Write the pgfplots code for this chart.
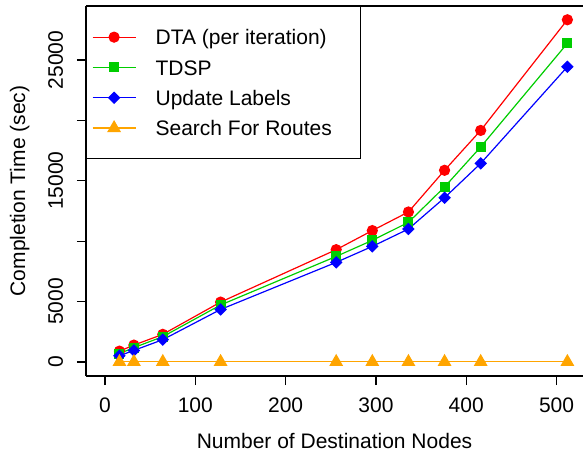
\documentclass[border=0pt]{standalone}
\usepackage{fontspec}
\setmainfont{Liberation Sans}
\usepackage{pgfplots}
\pgfplotsset{compat=1.18}
\definecolor{rgreen}{RGB}{0,205,0}
\definecolor{rorange}{RGB}{255,165,0}
\pgfdeclareplotmark{rdiamond}{%
  \pgfpathmoveto{\pgfqpoint{0pt}{\pgfplotmarksize}}%
  \pgfpathlineto{\pgfqpoint{\pgfplotmarksize}{0pt}}%
  \pgfpathlineto{\pgfqpoint{0pt}{-\pgfplotmarksize}}%
  \pgfpathlineto{\pgfqpoint{-\pgfplotmarksize}{0pt}}%
  \pgfpathclose\pgfusepathqfillstroke}
\begin{document}
\begin{tikzpicture}
\begin{axis}[
  scale only axis, width=248.5pt, height=185pt,
  xmin=-21.04, xmax=529.3, ymin=-1159, ymax=29470,
  axis x line=box, axis y line=left,
  axis line style={-, line width=0.6pt, black},
  scaled ticks=false,
  xtick={0,100,...,500}, xticklabels={0,100,200,300,400,500},
  ytick={0,5000,...,25000}, yticklabels={0,5000,,15000,,25000},
  xtick pos=left, ytick pos=left,
  tick align=outside, major tick length=4.5pt,
  tick style={black, line width=0.6pt},
  font=\fontsize{10.5}{12.6}\selectfont,
  xticklabel style={anchor=base}, xticklabel shift=13.5pt,
  yticklabel style={rotate=90, anchor=base}, yticklabel shift=7pt,
  xlabel={Number of Destination Nodes},
  xlabel style={at={(axis description cs:0.5,0)}, anchor=base, yshift=-36pt},
  ylabel={Completion Time (sec)},
  ylabel style={at={(axis description cs:-0.1227,0.5)}, anchor=base},
  legend style={at={(0,1)}, anchor=north west, draw=black, line width=0.6pt,
    inner xsep=0pt, inner ysep=7.7pt, row sep=0pt, column sep=0pt,
    font=\fontsize{10.5}{12.6}\selectfont,
    nodes={inner sep=0pt, text height=11.45pt, text depth=3.7pt},
    cells={anchor=west}},
  legend image code/.code={
    \path[draw=none, fill=none] (-3pt,0pt) -- (31.5pt,0pt);
    \draw[mark repeat=2, mark phase=2] plot coordinates {(0pt,0pt) (10.75pt,0pt) (21.5pt,0pt)};},
]
\addplot[red, line width=0.6pt, mark=*, mark size=2.5pt] coordinates {
 (16,900) (32,1400) (64,2290) (128,4960) (256,9300) (296,10880) (336,12420) (376,15870) (416,19170) (512,28330)};
\addlegendentry{DTA (per iteration)\hspace*{16.7pt}}
\addplot[rgreen, line width=0.6pt, mark=square*, mark size=2.2pt] coordinates {
 (16,700) (32,1190) (64,2100) (128,4720) (256,8740) (296,10070) (336,11560) (376,14490) (416,17800) (512,26380)};
\addlegendentry{TDSP}
\addplot[blue, line width=0.6pt, mark=rdiamond, mark size=2.7pt] coordinates {
 (16,520) (32,960) (64,1850) (128,4350) (256,8250) (296,9570) (336,11010) (376,13600) (416,16440) (512,24440)};
\addlegendentry{Update Labels}
\addplot[rorange, line width=0.6pt, mark=triangle*, mark size=3.4pt] coordinates {
 (16,10) (32,10) (64,10) (128,10) (256,10) (296,10) (336,10) (376,10) (416,10) (512,10)};
\addlegendentry{Search For Routes}
\end{axis}
\pgfresetboundingbox
\path (-43pt,-40pt) rectangle (248.5pt,188pt);
\end{tikzpicture}
\end{document}
